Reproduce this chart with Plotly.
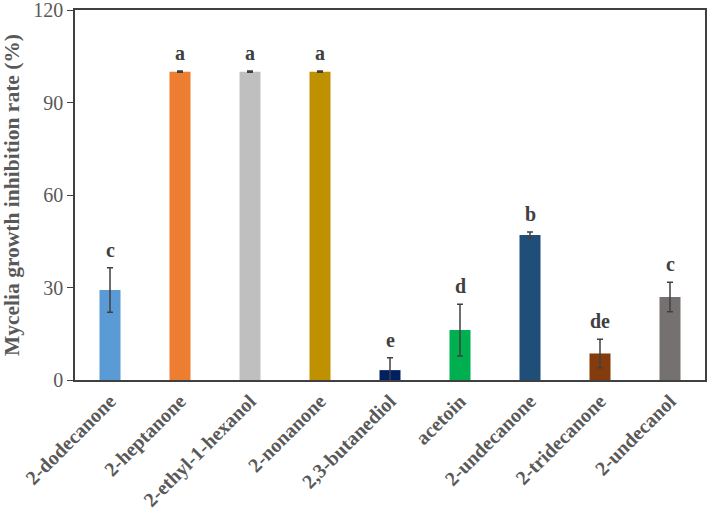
import plotly.graph_objects as go

categories = ["2-dodecanone", "2-heptanone", "2-ethyl-1-hexanol", "2-nonanone",
              "2,3-butanediol", "acetoin", "2-undecanone", "2-tridecanone", "2-undecanol"]
values = [29.2, 100.0, 100.0, 100.0, 3.2, 16.2, 47.0, 8.6, 26.9]
errors = [7.2, 0.2, 0.2, 0.2, 4.0, 8.4, 1.0, 4.6, 4.8]
letters = ["c", "a", "a", "a", "e", "d", "b", "de", "c"]
colors = ["#5B9BD5", "#ED7D31", "#BFBFBF", "#BF9000", "#002060",
          "#00B050", "#1F4E79", "#843C0C", "#767171"]
y_ticks = [0, 30, 60, 90, 120]

fig = go.Figure()
fig.add_trace(go.Bar(
    x=categories, y=values, width=0.3,
    marker=dict(color=colors, line=dict(width=0)),
    error_y=dict(type="data", array=errors, visible=True,
                 color="#404040", thickness=1.5, width=3),
    showlegend=False,
))

for c, v, e, t in zip(categories, values, errors, letters):
    fig.add_annotation(x=c, y=v + e, text="<b>" + t + "</b>", showarrow=False,
                       yanchor="bottom", yshift=5,
                       font=dict(family="Liberation Serif", size=20, color="#404040"))

fig.update_layout(
    width=709, height=518,
    margin=dict(l=75, r=4, t=10, b=138),
    paper_bgcolor="white", plot_bgcolor="white",
    bargap=0.7,
    font=dict(family="Liberation Serif", color="#404040"),
)
fig.update_xaxes(
    tickangle=-45, showline=True, linecolor="#404040", linewidth=1.5, mirror=True,
    ticks="", automargin=False,
    tickfont=dict(family="Liberation Serif", size=20, color="#595959"),
    tickprefix="<b>", ticksuffix="</b>", showgrid=False,
)
fig.update_yaxes(
    range=[0, 120], tickvals=y_ticks, showline=True, linecolor="#404040", linewidth=1.5,
    mirror=True, ticks="outside", ticklen=6, tickcolor="#404040", showgrid=False,
    zeroline=False, automargin=False, ticklabeloverflow="allow",
    tickfont=dict(family="Liberation Serif", size=20, color="#595959"),
    title=dict(text="<b>Mycelia growth inhibition rate (%)</b>", standoff=10,
               font=dict(family="Liberation Serif", size=21.5, color="#595959")),
)

fig.write_html("out.html", config={"displayModeBar": False},
               post_script="document.body.style.margin='0';")
